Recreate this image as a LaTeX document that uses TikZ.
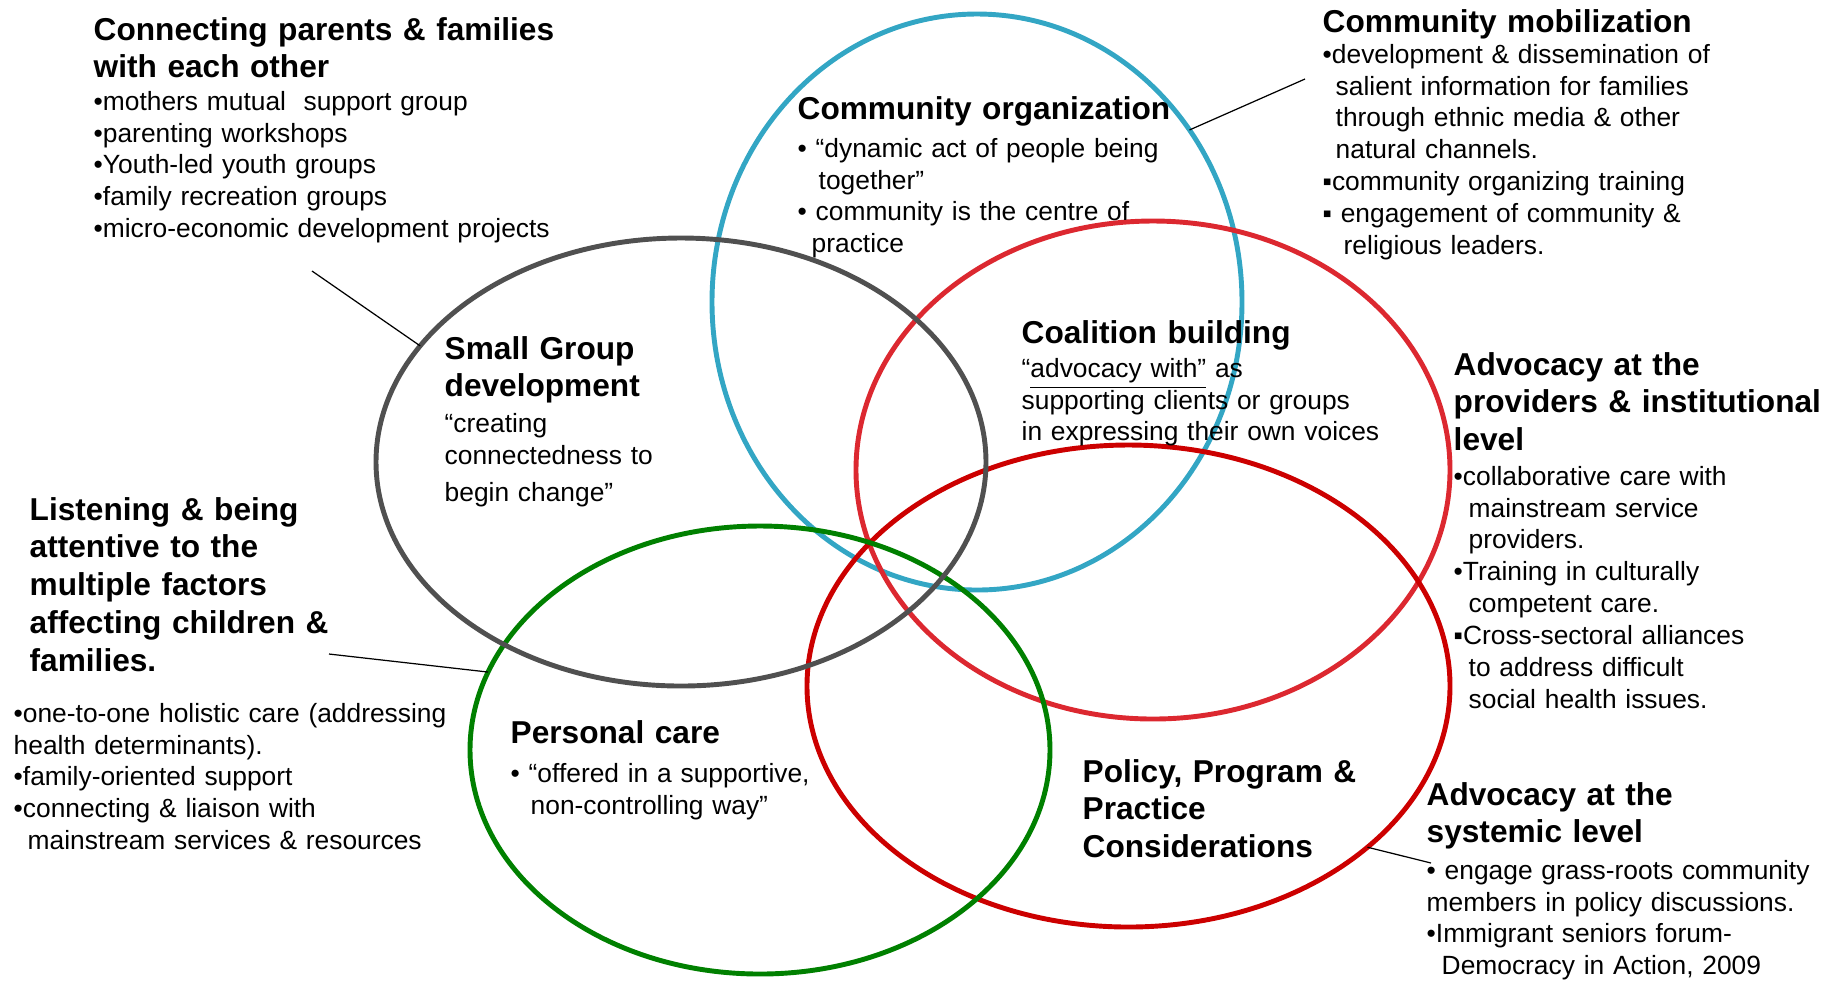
\documentclass[tikz,border=0pt]{standalone}
\usepackage{fontspec}
\setmainfont{Liberation Sans}
\usetikzlibrary{shapes.geometric}

\begin{document}
\begin{tikzpicture}[
    every node/.style={inner sep=0pt},
    heading/.style={font=\fontsize{9}{10.8}\selectfont\bfseries, text width=6cm, align=left, anchor=base west},
    bodytext/.style={font=\fontsize{7.5}{9.1}\selectfont, text width=6cm, align=left, anchor=base west},
    ring/.style={ellipse, draw, line width=1.4pt, outer sep=0pt},
    leader/.style={draw=black, line width=0.35pt}
]
    \definecolor{groupGrey}{HTML}{505050}
    \definecolor{commBlue}{HTML}{33A6C4}
    \definecolor{coalRed}{HTML}{DC2830}
    \definecolor{policyRed}{HTML}{CC0000}
    \definecolor{careGreen}{HTML}{008000}

    % Page frame
    \useasboundingbox (0,-9.80) rectangle (18.24,0);

    % Rings
    \node[ring, draw=commBlue, minimum width=5.30cm, minimum height=5.76cm] (commorg) at (9.77,-3.02) {};
    \node[ring, draw=coalRed, minimum width=5.94cm, minimum height=4.98cm] (coalition) at (11.53,-4.70) {};
    \node[ring, draw=policyRed, minimum width=6.43cm, minimum height=4.82cm] (policy) at (11.285,-6.86) {};
    \node[ring, draw=careGreen, minimum width=5.80cm, minimum height=4.48cm] (personal) at (7.60,-7.50) {};
    \node[ring, draw=groupGrey, minimum width=6.10cm, minimum height=4.48cm] (smallgroup) at (6.81,-4.62) {};

    % Leader lines from the side notes
    \coordinate (parentsEnd) at (3.12,-2.71);
    \draw[leader] (parentsEnd) -- (smallgroup.156);
    \coordinate (mobEnd) at (13.05,-0.79);
    \draw[leader] (mobEnd) -- (commorg.39);
    \coordinate (listenEnd) at (3.29,-6.54);
    \draw[leader] (listenEnd) -- (personal.164);
    \coordinate (sysEnd) at (14.31,-8.63);
    \draw[leader] (policy.326) -- (sysEnd);

    % Connecting parents & families
    \node[heading] (parentsHead) at (0.93,-0.40) {Connecting parents \& families\\with each other};
    \node[bodytext] (parentsList) at (0.93,-1.10) {•mothers mutual\ \ support group\\•parenting workshops\\•Youth-led youth groups\\•family recreation groups\\•micro-economic development projects};

    % Community organization
    \node[heading] (orgHead) at (7.97,-1.19) {Community organization};
    \node[bodytext] (orgList) at (7.97,-1.57) {•\ “dynamic act of people being\\\hspace*{2.1mm}together”\\•\ community is the centre of\\\hspace*{1.4mm}practice};

    % Community mobilization
    \node[heading] (mobHead) at (13.22,-0.32) {Community mobilization};
    \node[bodytext] (mobList) at (13.22,-0.63) {•development \& dissemination of\\\hspace*{1.3mm}salient information for families\\\hspace*{1.3mm}through ethnic media \& other\\\hspace*{1.3mm}natural channels.\\▪community organizing training\\▪ engagement of community \&\\\hspace*{2.1mm}religious leaders.};

    % Small group development
    \node[heading] (groupHead) at (4.44,-3.59) {Small Group\\development};
    \node[bodytext] (groupText) at (4.44,-4.32) {“creating\\connectedness to\\[0.6mm]begin change”};

    % Coalition building
    \node[heading] (coalHead) at (10.21,-3.43) {Coalition building};
    \node[bodytext] (coalText) at (10.21,-3.77) {“\underline{advocacy with”} as\\supporting clients or groups\\in expressing their own voices};

    % Advocacy at the providers & institutional level
    \node[heading] (instHead) at (14.53,-3.75) {Advocacy at the\\providers \& institutional\\level};
    \node[bodytext] (instList) at (14.53,-4.85) {•collaborative care with\\\hspace*{1.5mm}mainstream service\\\hspace*{1.5mm}providers.\\•Training in culturally\\\hspace*{1.5mm}competent care.\\▪Cross-sectoral alliances\\\hspace*{1.5mm}to address difficult\\\hspace*{1.5mm}social health issues.};

    % Listening & being attentive
    \node[heading] (listenHead) at (0.29,-5.20) {Listening \& being\\attentive to the\\multiple factors\\affecting children \&\\families.};
    \node[bodytext] (listenList) at (0.13,-7.22) {•one-to-one holistic care (addressing\\health determinants).\\•family-oriented support\\•connecting \& liaison with\\\hspace*{1.4mm}mainstream services \& resources};

    % Personal care
    \node[heading] (careHead) at (5.10,-7.43) {Personal care};
    \node[bodytext] (careList) at (5.10,-7.82) {•\ “offered in a supportive,\\\hspace*{2.0mm}non-controlling way”};

    % Policy, program & practice
    \node[heading] (policyHead) at (10.82,-7.82) {Policy, Program \&\\Practice\\Considerations};

    % Advocacy at the systemic level
    \node[heading] (sysHead) at (14.26,-8.05) {Advocacy at the\\systemic level};
    \node[bodytext] (sysList) at (14.26,-8.79) {•\ engage grass-roots community\\members in policy discussions.\\•Immigrant seniors forum-\\\hspace*{1.5mm}Democracy in Action, 2009};

\end{tikzpicture}
\end{document}
